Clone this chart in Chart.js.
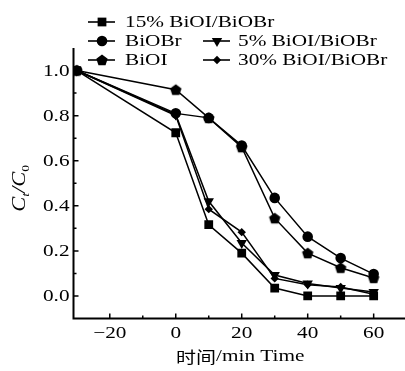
<!DOCTYPE html>
<html>
<head>
<meta charset="utf-8">
<script src="https://cdn.jsdelivr.net/npm/chart.js@4.4.1/dist/chart.umd.min.js"></script>
<style>
html,body{margin:0;padding:0;background:#fff;}
#wrap{width:405px;height:371px;position:relative;}
</style>
</head>
<body>
<div id="wrap"><canvas id="c" width="405" height="371"></canvas></div>
<script>
// ---- data ----
const times = [-30, 0, 10, 20, 30, 40, 50, 60];
const seriesNames = ['15% BiOI/BiOBr', 'BiOBr', 'BiOI', '5% BiOI/BiOBr', '30% BiOI/BiOBr'];
const bi15  = [1.0, 0.724, 0.316, 0.19, 0.035, 0.0, 0.0, 0.0];
const biobr = [1.0, 0.81, 0.79, 0.667, 0.435, 0.263, 0.168, 0.097];
const bioi  = [1.0, 0.915, 0.79, 0.66, 0.345, 0.19, 0.125, 0.08];
const bi5   = [1.0, 0.805, 0.42, 0.235, 0.093, 0.055, 0.035, 0.018];
const bi30  = [1.0, 0.80, 0.385, 0.283, 0.078, 0.05, 0.04, 0.008];
const xMajorTicks = [-20, 0, 20, 40, 60];
const xMinorTicks = [-10, 10, 30, 50];
const yMajorTicks = [0.0, 0.2, 0.4, 0.6, 0.8, 1.0];
const yMinorTicks = [0.1, 0.3, 0.5, 0.7, 0.9];
const xTitle = '时间/min Time';

// ---- styling ----
const FONT = '"Liberation Serif", "Times New Roman", serif';
const STRETCH = 1.25;

function pentagonCanvas(r) {
  const s = Math.ceil(r * 2 + 2);
  const cv = document.createElement('canvas');
  cv.width = s; cv.height = s;
  const c = cv.getContext('2d');
  c.fillStyle = '#000';
  c.beginPath();
  for (let i = 0; i < 5; i++) {
    const a = -Math.PI / 2 + i * 2 * Math.PI / 5;
    const px = s / 2 + r * Math.cos(a), py = s / 2 + r * Math.sin(a) + 0.5;
    if (i === 0) c.moveTo(px, py); else c.lineTo(px, py);
  }
  c.closePath(); c.fill();
  return cv;
}
const pent = pentagonCanvas(6);

function mk(label, vals, style, radius, rotation) {
  return {
    label,
    data: times.map((t, i) => ({x: t, y: vals[i]})),
    borderColor: '#000', backgroundColor: '#000',
    borderWidth: 1.5,
    pointStyle: style, pointRadius: radius, pointRotation: rotation || 0,
    pointBorderWidth: 0, pointBackgroundColor: '#000', pointBorderColor: '#000',
    tension: 0
  };
}
const datasets = [
  mk(seriesNames[0], bi15, 'rect', 6.2),
  mk(seriesNames[1], biobr, 'circle', 5.3),
  mk(seriesNames[2], bioi, pent, 6),
  mk(seriesNames[3], bi5, 'triangle', 6, 180),
  mk(seriesNames[4], bi30, 'rectRot', 4.2)
];

function sText(ctx, str, x, y, align) {
  ctx.save();
  ctx.translate(x, y);
  ctx.scale(STRETCH, 1);
  ctx.textAlign = align || 'left';
  ctx.textBaseline = 'middle';
  ctx.fillText(str, 0, 0);
  ctx.restore();
}
function fmt(v, dec) {
  const s = Math.abs(v).toFixed(dec);
  return (v < 0 ? '\u2212' : '') + s;
}

const decor = {
  id: 'decor',
  afterDraw(chart) {
    const ctx = chart.ctx;
    const xs = chart.scales.x, ys = chart.scales.y;
    const ca = chart.chartArea;
    ctx.save();
    ctx.strokeStyle = '#000'; ctx.fillStyle = '#000';
    // axis lines
    ctx.lineWidth = 2;
    ctx.beginPath();
    ctx.moveTo(ca.left, ca.top); ctx.lineTo(ca.left, ca.bottom); ctx.lineTo(chart.width, ca.bottom);
    ctx.stroke();
    // ticks (inward)
    ctx.lineWidth = 1.5;
    ctx.beginPath();
    yMajorTicks.forEach(v => { const p = ys.getPixelForValue(v); ctx.moveTo(ca.left, p); ctx.lineTo(ca.left + 5, p); });
    yMinorTicks.forEach(v => { const p = ys.getPixelForValue(v); ctx.moveTo(ca.left, p); ctx.lineTo(ca.left + 3, p); });
    xMajorTicks.forEach(v => { const p = xs.getPixelForValue(v); ctx.moveTo(p, ca.bottom); ctx.lineTo(p, ca.bottom - 5); });
    xMinorTicks.forEach(v => { const p = xs.getPixelForValue(v); ctx.moveTo(p, ca.bottom); ctx.lineTo(p, ca.bottom - 3); });
    ctx.stroke();
    // tick labels
    ctx.font = '17px ' + FONT;
    yMajorTicks.forEach(v => sText(ctx, fmt(v, 1), ca.left - 4, ys.getPixelForValue(v) + 1, 'right'));
    xMajorTicks.forEach(v => sText(ctx, fmt(v, 0), xs.getPixelForValue(v), ca.bottom + 15, 'center'));
    // x title
    ctx.save();
    ctx.translate((ca.left + ca.right) / 2 + 1, 357);
    ctx.scale(STRETCH, 1);
    ctx.textBaseline = 'middle';
    const cjk = '时间';
    const rest = xTitle.slice(2);
    ctx.font = '16px "Noto Sans CJK SC", sans-serif';
    const w1 = ctx.measureText(cjk).width;
    ctx.font = '17px ' + FONT;
    const w2 = ctx.measureText(rest).width;
    let sx = -(w1 + w2) / 2;
    ctx.font = '16px "Noto Sans CJK SC", sans-serif';
    ctx.textAlign = 'left';
    ctx.fillText(cjk, sx, 0);
    ctx.font = '17px ' + FONT;
    ctx.fillText(rest, sx + w1, 0);
    ctx.restore();
    // y title  C_t / C_0
    ctx.save();
    ctx.translate(19, (ca.top + ca.bottom) / 2 + 5);
    ctx.rotate(-Math.PI / 2);
    ctx.scale(STRETCH, 1);
    ctx.textBaseline = 'alphabetic';
    ctx.textAlign = 'left';
    const parts = [
      {t: 'C', f: 'italic 18px ' + FONT, dy: 0},
      {t: 't', f: 'italic 11px ' + FONT, dy: 4},
      {t: '/', f: 'italic 18px ' + FONT, dy: 0},
      {t: 'C', f: 'italic 18px ' + FONT, dy: 0},
      {t: '0', f: '11px ' + FONT, dy: 4}
    ];
    let tw = 0;
    parts.forEach(p => { ctx.font = p.f; p.w = ctx.measureText(p.t).width; tw += p.w; });
    let px = -tw / 2;
    parts.forEach(p => { ctx.font = p.f; ctx.fillText(p.t, px, 6 + p.dy); px += p.w; });
    ctx.restore();
    // legend
    const H = Chart.helpers;
    const entries = [
      {d: 0, col: 0, row: 0}, {d: 1, col: 0, row: 1}, {d: 2, col: 0, row: 2},
      {d: 3, col: 1, row: 1}, {d: 4, col: 1, row: 2}
    ];
    const colX = [[88, 115, 102, 125], [203, 230, 217, 238]];
    const rowY = [22, 41, 60];
    entries.forEach(e => {
      const ds = chart.data.datasets[e.d];
      const [l0, l1, mx, tx] = colX[e.col];
      const y = rowY[e.row];
      ctx.lineWidth = 1.6;
      ctx.beginPath(); ctx.moveTo(l0, y); ctx.lineTo(l1, y); ctx.stroke();
      H.drawPoint(ctx, {pointStyle: ds.pointStyle, radius: ds.pointRadius, rotation: ds.pointRotation, borderWidth: 0}, mx, y);
      ctx.fillStyle = '#000';
      ctx.font = '17px ' + FONT;
      sText(ctx, ds.label, tx, y + 1, 'left');
    });
    ctx.restore();
  }
};

new Chart(document.getElementById('c'), {
  type: 'line',
  data: {datasets},
  options: {
    responsive: false,
    animation: false,
    layout: {autoPadding: false, padding: {top: 48, right: 0, left: 0, bottom: 0}},
    plugins: {legend: {display: false}, tooltip: {enabled: false}},
    scales: {
      x: {
        type: 'linear', min: -31, max: 69.5,
        grid: {display: false}, border: {display: false},
        ticks: {display: false},
        afterFit(s) { s.height = 52.5; }
      },
      y: {
        type: 'linear', min: -0.1, max: 1.1,
        grid: {display: false}, border: {display: false},
        ticks: {display: false},
        afterFit(s) { s.width = 73.5; }
      }
    },
    elements: {line: {borderJoinStyle: 'miter'}}
  },
  plugins: [decor]
});
</script>
</body>
</html>
